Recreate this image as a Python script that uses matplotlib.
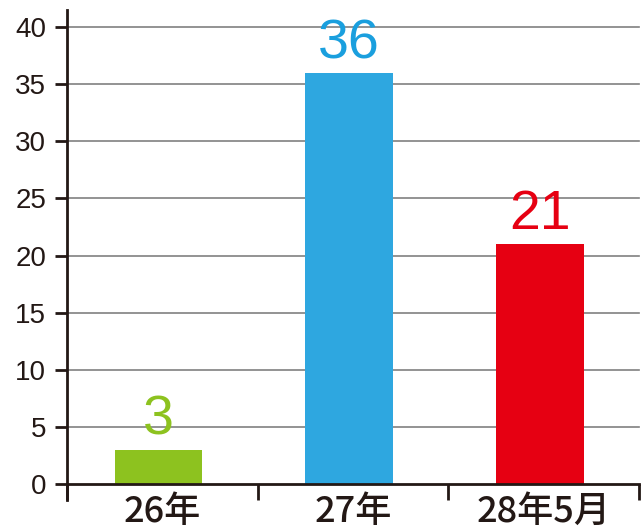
import matplotlib
matplotlib.use('Agg')
import matplotlib.pyplot as plt
from matplotlib.ticker import FixedLocator

plt.rcParams['font.family'] = ['Liberation Sans', 'Noto Sans CJK JP', 'DejaVu Sans']

# データ
categories = ['26年', '27年', '28年5月']
values = [3, 36, 21]
bar_colors = ['#8DC21F', '#2EA7E0', '#E60012']
label_colors = ['#8DC21F', '#1A9FDE', '#E60012']
y_ticks = [0, 5, 10, 15, 20, 25, 30, 35, 40]

ink = '#231815'

fig = plt.figure(figsize=(6.41, 5.32), dpi=100)
ax = fig.add_axes([67 / 641, 48 / 532, 572 / 641, 474 / 532])

x = list(range(len(categories)))
ax.bar([xi - 0.02 for xi in x], values, width=0.46, color=bar_colors, zorder=3)

# 数値ラベル
for xi, v, c in zip(x, values, label_colors):
    ax.annotate(str(v), (xi - 0.02, v), xytext=(0, 2), textcoords='offset points',
                ha='center', va='bottom', fontsize=40, color=c, zorder=4)

ax.set_xlim(-0.5, 2.5)
ax.set_ylim(0, 41.5)

# グリッド
for t in y_ticks[1:]:
    ax.axhline(t, color='#808080', lw=1.2, zorder=1, clip_on=False)

ax.set_yticks(y_ticks)
ax.tick_params(axis='y', direction='out', length=9, width=2, color=ink,
               labelsize=20, labelcolor=ink, pad=6)

ax.set_xticks(x)
ax.set_xticklabels(categories, family=['Noto Sans CJK JP'], fontweight='medium')
ax.xaxis.set_minor_locator(FixedLocator([-0.5, 0.5, 1.5, 2.5]))
ax.tick_params(axis='x', which='major', length=0, labelsize=26, labelcolor=ink, pad=7)
ax.tick_params(axis='x', which='minor', direction='out', length=11.5, width=2, color=ink)

for s in ['top', 'right']:
    ax.spines[s].set_visible(False)
ax.spines['left'].set_linewidth(2)
ax.spines['left'].set_color(ink)
ax.spines['left'].set_bounds(-1.4, 41.5)
ax.spines['bottom'].set_linewidth(2)
ax.spines['bottom'].set_color(ink)
ax.spines['bottom'].set_zorder(5)

fig.savefig('out.png', dpi=100)
plt.close()
